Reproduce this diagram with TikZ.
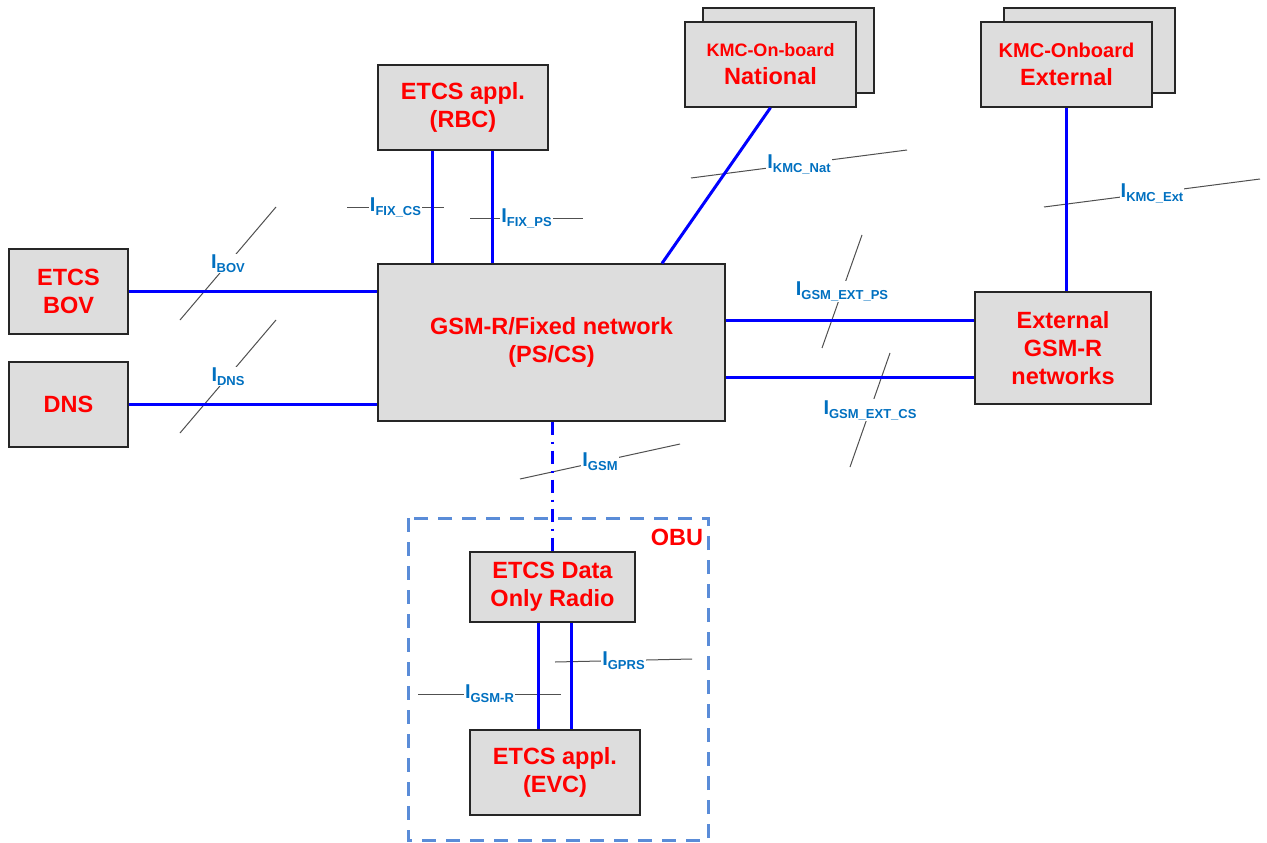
\documentclass[tikz,border=0pt]{standalone}
\usepackage{fontspec}
\setmainfont{Liberation Sans}
\definecolor{boxgray}{HTML}{DDDDDD}
\definecolor{lblblue}{HTML}{0070C0}
\definecolor{obublue}{HTML}{5A8CD8}
\definecolor{slashgray}{HTML}{505050}
\newcommand\ilbl[1]{{\fontsize{20}{20}\selectfont I}{\fontsize{13}{13}\selectfont\raisebox{-4pt}{#1}}}
\tikzset{
  box/.style={draw=black!85, line width=1.3pt, fill=boxgray, text=red,
    font=\bfseries\fontsize{23.5}{28}\selectfont, align=center, inner sep=0pt},
  conn/.style={draw=blue, line width=3pt},
  slash/.style={draw=slashgray, line width=1pt},
  lbl/.style={fill=white, inner sep=1pt, text=lblblue, font=\bfseries},
}
\begin{document}
\begin{tikzpicture}[x=1pt,y=-1pt]
\useasboundingbox[fill=white] (0,0) rectangle (1267,843);

% boxes
\node[box, minimum width=170pt, minimum height=85pt] (rbc) at (463,107.5) {ETCS appl.\\(RBC)};
\node[box, minimum width=171pt, minimum height=85pt] (kmcNb) at (788.5,50.5) {};
\node[box, minimum width=171pt, minimum height=85pt] (kmcN) at (770.5,64.5)
  {{\fontsize{18}{24}\selectfont KMC-On-board}\\National};
\node[box, minimum width=171pt, minimum height=85pt] (kmcEb) at (1089.5,50.5) {};
\node[box, minimum width=171pt, minimum height=85pt] (kmcE) at (1066.5,64.5)
  {{\fontsize{20}{26}\selectfont KMC-Onboard}\\External};
\node[box, minimum width=119pt, minimum height=85pt] (bov) at (68.5,291.5) {ETCS\\BOV};
\node[box, minimum width=119pt, minimum height=85pt] (dns) at (68.5,404.5) {DNS};
\node[box, minimum width=347pt, minimum height=157pt] (gsm) at (551.5,342.5) {GSM-R/Fixed network\\(PS/CS)};
\node[box, minimum width=176pt, minimum height=112pt] (ext) at (1063,348) {External\\GSM-R\\networks};
\node[box, minimum width=165pt, minimum height=70pt] (radio) at (552.5,587) {ETCS Data\\Only Radio};
\node[box, minimum width=170pt, minimum height=85pt] (evc) at (555,772.5) {ETCS appl.\\(EVC)};

% OBU frame
\draw[obublue, line width=3pt, dash pattern=on 14pt off 10pt] (408,518) rectangle (708,840);
\node[text=red, font=\bfseries\fontsize{23.5}{28}\selectfont] (obu) at (677,537) {OBU};

% helper coordinates
\coordinate (x432) at (432,0);
\coordinate (x492) at (492,0);
\coordinate (x662) at (662,0);
\coordinate (x538) at (538,0);
\coordinate (x571) at (571,0);
\coordinate (y320) at (0,320);
\coordinate (y377) at (0,377);

% slash markers with labels
\coordinate (fcsA) at (347,207); \coordinate (fcsB) at (444,207);
\draw[slash] (fcsA) -- node[lbl] (lfcs) {\ilbl{FIX\_CS}} (fcsB);
\coordinate (fpsA) at (470,218); \coordinate (fpsB) at (583,218);
\draw[slash] (fpsA) -- node[lbl] (lfps) {\ilbl{FIX\_PS}} (fpsB);
\coordinate (knA) at (691,178); \coordinate (knB) at (907,150);
\draw[slash] (knA) -- node[lbl] (lkn) {\ilbl{KMC\_Nat}} (knB);
\coordinate (keA) at (1044,207); \coordinate (keB) at (1260,179);
\draw[slash] (keA) -- node[lbl] (lke) {\ilbl{KMC\_Ext}} (keB);
\coordinate (bovA) at (180,320); \coordinate (bovB) at (276,207);
\draw[slash] (bovA) -- node[lbl] (lbov) {\ilbl{BOV}} (bovB);
\coordinate (dnsA) at (180,433); \coordinate (dnsB) at (276,320);
\draw[slash] (dnsA) -- node[lbl] (ldns) {\ilbl{DNS}} (dnsB);
\coordinate (epsA) at (822,348); \coordinate (epsB) at (862,235);
\draw[slash] (epsA) -- node[lbl] (leps) {\ilbl{GSM\_EXT\_PS}} (epsB);
\coordinate (ecsA) at (850,467); \coordinate (ecsB) at (890,353);
\draw[slash] (ecsA) -- node[lbl] (lecs) {\ilbl{GSM\_EXT\_CS}} (ecsB);
\coordinate (gA) at (520,479); \coordinate (gB) at (680,444);
\draw[slash] (gA) -- node[lbl] (lg) {\ilbl{GSM}} (gB);
\coordinate (gpA) at (555,662); \coordinate (gpB) at (692,659);
\draw[slash] (gpA) -- node[lbl] (lgp) {\ilbl{GPRS}} (gpB);
\coordinate (grA) at (418,694); \coordinate (grB) at (561,694);
\draw[slash] (grA) -- node[lbl] (lgr) {\ilbl{GSM-R}} (grB);

% connectors
\draw[conn] (rbc.south -| x432) -- (gsm.north -| x432);
\draw[conn] (rbc.south -| x492) -- (gsm.north -| x492);
\draw[conn] (kmcN.south) -- (gsm.north -| x662);
\draw[conn] (kmcE.south) -- (kmcE.south |- ext.north);
\draw[conn] (bov.east) -- (bov.east -| gsm.west);
\draw[conn] (dns.east) -- (dns.east -| gsm.west);
\draw[conn] (gsm.east |- y320) -- (ext.west |- y320);
\draw[conn] (gsm.east |- y377) -- (ext.west |- y377);
\draw[blue, line width=3pt, dash pattern=on 13pt off 7pt on 2pt off 7pt] (radio.north |- gsm.south) -- (radio.north);
\draw[conn] (radio.south -| x538) -- (evc.north -| x538);
\draw[conn] (radio.south -| x571) -- (evc.north -| x571);
\end{tikzpicture}
\end{document}
